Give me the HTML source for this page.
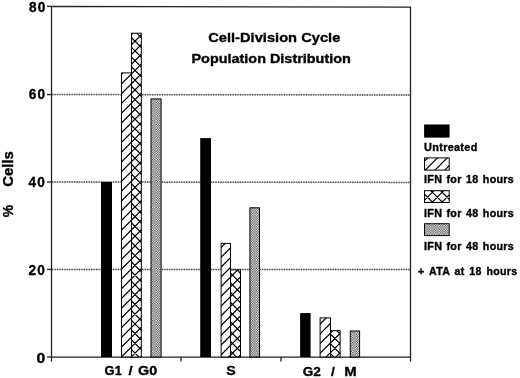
<!DOCTYPE html>
<html><head><meta charset="utf-8">
<style>
html,body{margin:0;padding:0;background:#fff;}
body{width:520px;height:378px;overflow:hidden;}
svg{display:block;will-change:transform;}
text{font-family:"Liberation Sans",sans-serif;font-weight:bold;fill:#000;stroke:#000;stroke-width:0.35px;}
</style></head><body>
<svg width="520" height="378" viewBox="0 0 520 378">
<defs>
<pattern id="hat" patternUnits="userSpaceOnUse" x="8.25" y="2.1" width="9.75" height="9.75">
<path d="M-1,10.75 L10.75,-1 M-1,1 L1,-1 M8.75,10.75 L10.75,8.75" stroke="#000" stroke-width="1" fill="none"/>
</pattern>
<pattern id="crs" patternUnits="userSpaceOnUse" x="8.25" y="2.1" width="9.75" height="9.75">
<path d="M-1,10.75 L10.75,-1 M-1,1 L1,-1 M8.75,10.75 L10.75,8.75 M-1,-1 L10.75,10.75 M-1,8.75 L1,10.75 M8.75,-1 L10.75,1" stroke="#000" stroke-width="1" fill="none"/>
</pattern>
<pattern id="gry" patternUnits="userSpaceOnUse" x="0.7" y="0.5" width="2.44" height="2.44"><rect width="2.44" height="2.44" fill="#fff"/><rect x="0" y="0" width="1.22" height="1.22" fill="#444444"/><rect x="1.22" y="1.22" width="1.22" height="1.22" fill="#444444"/></pattern>
</defs>
<g stroke-width="1.5">
<line x1="52" y1="94.55" x2="410" y2="94.95" stroke="#cccccc"/>
<line x1="52" y1="94.55" x2="410" y2="94.95" stroke="#4a4a4a" stroke-dasharray="1.22 1.22"/>
<line x1="52" y1="182.0" x2="410" y2="182.4" stroke="#cccccc"/>
<line x1="52" y1="182.0" x2="410" y2="182.4" stroke="#4a4a4a" stroke-dasharray="1.22 1.22"/>
<line x1="52" y1="269.45" x2="410" y2="269.5" stroke="#cccccc"/>
<line x1="52" y1="269.45" x2="410" y2="269.5" stroke="#4a4a4a" stroke-dasharray="1.22 1.22"/>
</g>
<g stroke="#222" stroke-width="1.3" fill="none">
<path d="M51.5,6.4L410.5,7.1V357.1L51.5,357Z"/>
<line x1="47" y1="6.4" x2="51.5" y2="6.4"/>
<line x1="47" y1="94.55" x2="51.5" y2="94.55"/>
<line x1="47" y1="182.0" x2="51.5" y2="182.0"/>
<line x1="47" y1="269.45" x2="51.5" y2="269.45"/>
<line x1="47" y1="357.0" x2="51.5" y2="357.0"/>
<line x1="51.5" y1="357" x2="51.5" y2="361.5"/>
<line x1="181.0" y1="357" x2="181.0" y2="361.5"/>
<line x1="281.0" y1="357" x2="281.0" y2="361.5"/>
<line x1="410.5" y1="357" x2="410.5" y2="361.5"/>
</g>
<rect x="101.0" y="182.0" width="11.00" height="175.00" fill="#000"/>
<rect x="121.5" y="72.9" width="10.00" height="284.10" fill="#fff" stroke="none"/>
<clipPath id="c1"><rect x="121.50" y="72.90" width="10.00" height="284.10"/></clipPath><path clip-path="url(#c1)" d="M119.50,56.60L133.50,42.60M119.50,66.35L133.50,52.35M119.50,76.10L133.50,62.10M119.50,85.85L133.50,71.85M119.50,95.60L133.50,81.60M119.50,105.35L133.50,91.35M119.50,115.10L133.50,101.10M119.50,124.85L133.50,110.85M119.50,134.60L133.50,120.60M119.50,144.35L133.50,130.35M119.50,154.10L133.50,140.10M119.50,163.85L133.50,149.85M119.50,173.60L133.50,159.60M119.50,183.35L133.50,169.35M119.50,193.10L133.50,179.10M119.50,202.85L133.50,188.85M119.50,212.60L133.50,198.60M119.50,222.35L133.50,208.35M119.50,232.10L133.50,218.10M119.50,241.85L133.50,227.85M119.50,251.60L133.50,237.60M119.50,261.35L133.50,247.35M119.50,271.10L133.50,257.10M119.50,280.85L133.50,266.85M119.50,290.60L133.50,276.60M119.50,300.35L133.50,286.35M119.50,310.10L133.50,296.10M119.50,319.85L133.50,305.85M119.50,329.60L133.50,315.60M119.50,339.35L133.50,325.35M119.50,349.10L133.50,335.10M119.50,358.85L133.50,344.85M119.50,368.60L133.50,354.60M119.50,378.35L133.50,364.35M119.50,388.10L133.50,374.10" stroke="#000" stroke-width="1.2" fill="none"/>
<rect x="121.5" y="72.9" width="10.00" height="284.10" fill="none" stroke="#000" stroke-width="1"/>
<rect x="131.5" y="33.2" width="9.80" height="323.80" fill="#fff" stroke="none"/>
<clipPath id="c2"><rect x="131.50" y="33.20" width="9.80" height="323.80"/></clipPath><path clip-path="url(#c2)" d="M129.50,17.35L143.30,3.55M129.50,27.10L143.30,13.30M129.50,36.85L143.30,23.05M129.50,46.60L143.30,32.80M129.50,56.35L143.30,42.55M129.50,66.10L143.30,52.30M129.50,75.85L143.30,62.05M129.50,85.60L143.30,71.80M129.50,95.35L143.30,81.55M129.50,105.10L143.30,91.30M129.50,114.85L143.30,101.05M129.50,124.60L143.30,110.80M129.50,134.35L143.30,120.55M129.50,144.10L143.30,130.30M129.50,153.85L143.30,140.05M129.50,163.60L143.30,149.80M129.50,173.35L143.30,159.55M129.50,183.10L143.30,169.30M129.50,192.85L143.30,179.05M129.50,202.60L143.30,188.80M129.50,212.35L143.30,198.55M129.50,222.10L143.30,208.30M129.50,231.85L143.30,218.05M129.50,241.60L143.30,227.80M129.50,251.35L143.30,237.55M129.50,261.10L143.30,247.30M129.50,270.85L143.30,257.05M129.50,280.60L143.30,266.80M129.50,290.35L143.30,276.55M129.50,300.10L143.30,286.30M129.50,309.85L143.30,296.05M129.50,319.60L143.30,305.80M129.50,329.35L143.30,315.55M129.50,339.10L143.30,325.30M129.50,348.85L143.30,335.05M129.50,358.60L143.30,344.80M129.50,368.35L143.30,354.55M129.50,378.10L143.30,364.30M129.50,387.85L143.30,374.05M129.50,367.10L143.30,380.90M129.50,357.35L143.30,371.15M129.50,347.60L143.30,361.40M129.50,337.85L143.30,351.65M129.50,328.10L143.30,341.90M129.50,318.35L143.30,332.15M129.50,308.60L143.30,322.40M129.50,298.85L143.30,312.65M129.50,289.10L143.30,302.90M129.50,279.35L143.30,293.15M129.50,269.60L143.30,283.40M129.50,259.85L143.30,273.65M129.50,250.10L143.30,263.90M129.50,240.35L143.30,254.15M129.50,230.60L143.30,244.40M129.50,220.85L143.30,234.65M129.50,211.10L143.30,224.90M129.50,201.35L143.30,215.15M129.50,191.60L143.30,205.40M129.50,181.85L143.30,195.65M129.50,172.10L143.30,185.90M129.50,162.35L143.30,176.15M129.50,152.60L143.30,166.40M129.50,142.85L143.30,156.65M129.50,133.10L143.30,146.90M129.50,123.35L143.30,137.15M129.50,113.60L143.30,127.40M129.50,103.85L143.30,117.65M129.50,94.10L143.30,107.90M129.50,84.35L143.30,98.15M129.50,74.60L143.30,88.40M129.50,64.85L143.30,78.65M129.50,55.10L143.30,68.90M129.50,45.35L143.30,59.15M129.50,35.60L143.30,49.40M129.50,25.85L143.30,39.65M129.50,16.10L143.30,29.90M129.50,6.35L143.30,20.15" stroke="#000" stroke-width="1.2" fill="none"/>
<rect x="131.5" y="33.2" width="9.80" height="323.80" fill="none" stroke="#000" stroke-width="1"/>
<rect x="151.0" y="98.9" width="10.10" height="258.10" fill="#fff" stroke="none"/>
<clipPath id="c3"><rect x="151.00" y="98.90" width="10.10" height="258.10"/></clipPath><g clip-path="url(#c3)"><rect x="151.00" y="98.90" width="10.10" height="258.10" fill="url(#gry)"/></g>
<rect x="151.0" y="98.9" width="10.10" height="258.10" fill="none" stroke="#000" stroke-width="1"/>
<rect x="200.2" y="138.1" width="10.80" height="218.90" fill="#000"/>
<rect x="221.1" y="243.4" width="9.40" height="113.60" fill="#fff" stroke="none"/>
<clipPath id="c4"><rect x="221.10" y="243.40" width="9.40" height="113.60"/></clipPath><path clip-path="url(#c4)" d="M219.10,230.00L232.50,216.60M219.10,239.75L232.50,226.35M219.10,249.50L232.50,236.10M219.10,259.25L232.50,245.85M219.10,269.00L232.50,255.60M219.10,278.75L232.50,265.35M219.10,288.50L232.50,275.10M219.10,298.25L232.50,284.85M219.10,308.00L232.50,294.60M219.10,317.75L232.50,304.35M219.10,327.50L232.50,314.10M219.10,337.25L232.50,323.85M219.10,347.00L232.50,333.60M219.10,356.75L232.50,343.35M219.10,366.50L232.50,353.10M219.10,376.25L232.50,362.85M219.10,386.00L232.50,372.60" stroke="#000" stroke-width="1.2" fill="none"/>
<rect x="221.1" y="243.4" width="9.40" height="113.60" fill="none" stroke="#000" stroke-width="1"/>
<rect x="230.5" y="269.9" width="10.00" height="87.10" fill="#fff" stroke="none"/>
<clipPath id="c5"><rect x="230.50" y="269.90" width="10.00" height="87.10"/></clipPath><path clip-path="url(#c5)" d="M228.50,259.60L242.50,245.60M228.50,269.35L242.50,255.35M228.50,279.10L242.50,265.10M228.50,288.85L242.50,274.85M228.50,298.60L242.50,284.60M228.50,308.35L242.50,294.35M228.50,318.10L242.50,304.10M228.50,327.85L242.50,313.85M228.50,337.60L242.50,323.60M228.50,347.35L242.50,333.35M228.50,357.10L242.50,343.10M228.50,366.85L242.50,352.85M228.50,376.60L242.50,362.60M228.50,386.35L242.50,372.35M228.50,368.60L242.50,382.60M228.50,358.85L242.50,372.85M228.50,349.10L242.50,363.10M228.50,339.35L242.50,353.35M228.50,329.60L242.50,343.60M228.50,319.85L242.50,333.85M228.50,310.10L242.50,324.10M228.50,300.35L242.50,314.35M228.50,290.60L242.50,304.60M228.50,280.85L242.50,294.85M228.50,271.10L242.50,285.10M228.50,261.35L242.50,275.35M228.50,251.60L242.50,265.60M228.50,241.85L242.50,255.85" stroke="#000" stroke-width="1.2" fill="none"/>
<rect x="230.5" y="269.9" width="10.00" height="87.10" fill="none" stroke="#000" stroke-width="1"/>
<rect x="249.9" y="207.8" width="9.60" height="149.20" fill="#fff" stroke="none"/>
<clipPath id="c6"><rect x="249.90" y="207.80" width="9.60" height="149.20"/></clipPath><g clip-path="url(#c6)"><rect x="249.90" y="207.80" width="9.60" height="149.20" fill="url(#gry)"/></g>
<rect x="249.9" y="207.8" width="9.60" height="149.20" fill="none" stroke="#000" stroke-width="1"/>
<rect x="300.1" y="313.1" width="10.50" height="43.90" fill="#000"/>
<rect x="320.1" y="317.9" width="10.40" height="39.10" fill="#fff" stroke="none"/>
<clipPath id="c7"><rect x="320.10" y="317.90" width="10.40" height="39.10"/></clipPath><path clip-path="url(#c7)" d="M318.10,306.50L332.50,292.10M318.10,316.25L332.50,301.85M318.10,326.00L332.50,311.60M318.10,335.75L332.50,321.35M318.10,345.50L332.50,331.10M318.10,355.25L332.50,340.85M318.10,365.00L332.50,350.60M318.10,374.75L332.50,360.35M318.10,384.50L332.50,370.10" stroke="#000" stroke-width="1.2" fill="none"/>
<rect x="320.1" y="317.9" width="10.40" height="39.10" fill="none" stroke="#000" stroke-width="1"/>
<rect x="330.5" y="330.7" width="9.60" height="26.30" fill="#fff" stroke="none"/>
<clipPath id="c8"><rect x="330.50" y="330.70" width="9.60" height="26.30"/></clipPath><path clip-path="url(#c8)" d="M328.50,315.60L342.10,302.00M328.50,325.35L342.10,311.75M328.50,335.10L342.10,321.50M328.50,344.85L342.10,331.25M328.50,354.60L342.10,341.00M328.50,364.35L342.10,350.75M328.50,374.10L342.10,360.50M328.50,383.85L342.10,370.25M328.50,371.10L342.10,384.70M328.50,361.35L342.10,374.95M328.50,351.60L342.10,365.20M328.50,341.85L342.10,355.45M328.50,332.10L342.10,345.70M328.50,322.35L342.10,335.95M328.50,312.60L342.10,326.20M328.50,302.85L342.10,316.45" stroke="#000" stroke-width="1.2" fill="none"/>
<rect x="330.5" y="330.7" width="9.60" height="26.30" fill="none" stroke="#000" stroke-width="1"/>
<rect x="350.3" y="331.0" width="9.30" height="26.00" fill="#fff" stroke="none"/>
<clipPath id="c9"><rect x="350.30" y="331.00" width="9.30" height="26.00"/></clipPath><g clip-path="url(#c9)"><rect x="350.30" y="331.00" width="9.30" height="26.00" fill="url(#gry)"/></g>
<rect x="350.3" y="331.0" width="9.30" height="26.00" fill="none" stroke="#000" stroke-width="1"/>
<rect x="424.1" y="124.5" width="25.50" height="13.10" fill="#000"/>
<rect x="424.50" y="157.90" width="24.70" height="12.20" fill="#fff"/>
<clipPath id="c10"><rect x="424.50" y="157.90" width="24.70" height="12.20"/></clipPath><path clip-path="url(#c10)" d="M422.50,143.60L451.20,114.90M422.50,153.35L451.20,124.65M422.50,163.10L451.20,134.40M422.50,172.85L451.20,144.15M422.50,182.60L451.20,153.90M422.50,192.35L451.20,163.65M422.50,202.10L451.20,173.40M422.50,211.85L451.20,183.15" stroke="#000" stroke-width="1.2" fill="none"/>
<rect x="424.50" y="157.90" width="24.70" height="12.20" fill="none" stroke="#000" stroke-width="1"/>
<rect x="424.50" y="190.70" width="24.70" height="11.80" fill="#fff"/>
<clipPath id="c11"><rect x="424.50" y="190.70" width="24.70" height="11.80"/></clipPath><path clip-path="url(#c11)" d="M422.50,182.60L451.20,153.90M422.50,192.35L451.20,163.65M422.50,202.10L451.20,173.40M422.50,211.85L451.20,183.15M422.50,221.60L451.20,192.90M422.50,231.35L451.20,202.65M422.50,241.10L451.20,212.40M422.50,211.60L451.20,240.30M422.50,201.85L451.20,230.55M422.50,192.10L451.20,220.80M422.50,182.35L451.20,211.05M422.50,172.60L451.20,201.30M422.50,162.85L451.20,191.55M422.50,153.10L451.20,181.80" stroke="#000" stroke-width="1.2" fill="none"/>
<rect x="424.50" y="190.70" width="24.70" height="11.80" fill="none" stroke="#000" stroke-width="1"/>
<rect x="424.50" y="223.70" width="24.70" height="11.90" fill="#fff"/>
<clipPath id="c12"><rect x="424.50" y="223.70" width="24.70" height="11.90"/></clipPath><g clip-path="url(#c12)"><rect x="424.50" y="223.70" width="24.70" height="11.90" fill="url(#gry)"/></g>
<rect x="424.50" y="223.70" width="24.70" height="11.90" fill="none" stroke="#000" stroke-width="1"/>
<g font-size="10.4" letter-spacing="0.3">
<text transform="translate(424.1,150.5) scale(1.045,1)">Untreated</text>
<text transform="translate(424.0,183.4) scale(1.03,1)" word-spacing="1.0">IFN for 18 hours</text>
<text transform="translate(424.0,216.9) scale(1.03,1)" word-spacing="1.0">IFN for 48 hours</text>
<text transform="translate(424.0,249.8) scale(1.03,1)" word-spacing="1.0">IFN for 48 hours</text>
<text transform="translate(418.1,275.0) scale(1.02,1)" word-spacing="1.5">+ ATA at 18 hours</text>
</g>
<g font-size="13.3">
<text transform="translate(208.2,41.6) scale(1.104,1)">Cell-Division Cycle</text>
<text transform="translate(191.5,62.7) scale(1.085,1)">Population Distribution</text>
</g>
<g font-size="13.9" letter-spacing="1.2">
<text transform="translate(29.0,12.0) scale(0.98,1)">80</text>
<text transform="translate(28.7,99.4) scale(0.98,1)">60</text>
<text transform="translate(28.4,187.4) scale(0.98,1)">40</text>
<text transform="translate(28.4,274.9) scale(0.98,1)">20</text>
<text transform="translate(36.4,363.0) scale(1.13,1)">0</text>
</g>
<g font-size="13.6">
<text transform="translate(104.6,374.9) scale(0.95,1)">G1</text>
<text transform="translate(128.6,374.9) scale(1.09,1)">/</text>
<text transform="translate(138.1,374.9) scale(1.05,1)">G0</text>
<text transform="translate(226.3,374.6) scale(1.04,1)">S</text>
<text transform="translate(302.8,375.8) scale(1.0,1)">G2</text>
<text transform="translate(330.9,375.8) scale(1.0,1)">/</text>
<text transform="translate(344.3,375.8) scale(1.1,1)">M</text>
</g>
<g font-size="13.8">
<text transform="translate(13,217.2) rotate(-90) scale(1.0,1)">%</text>
<text transform="translate(13,186.8) rotate(-90) scale(1.08,1)">Cells</text>
</g>
</svg>
</body></html>
